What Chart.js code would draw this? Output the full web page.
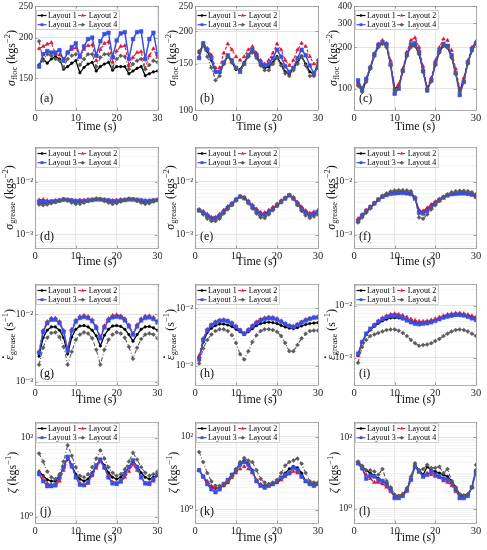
<!DOCTYPE html>
<html><head><meta charset="utf-8">
<script src="https://cdn.jsdelivr.net/npm/chart.js@4"></script>
<style>
html,body{margin:0;padding:0;background:#fff;}
body{width:487px;height:550px;position:relative;overflow:hidden;}
canvas{position:absolute;}
</style>
</head><body>
<script>
// ---------------- DATA ----------------
const time = [1,2,3,4,5,6,7,8,9,10,11,12,13,14,15,16,17,18,19,20,21,22,23,24,25,26,27,28,29,30];
const layoutNames = ['Layout 1','Layout 2','Layout 3','Layout 4'];
const xTicks = [0,10,20,30];
const xLabel = 'Time (s)';

// (a) sigma_floc
const a_L1 = [165,172,167,172,175,172,160,163,167,170,156,162,166,168,158,163,166,168,159,163,163,163,155,158,161,163,153,155,157,158];
const a_L2 = [185,188,191,193,178,177,172,180,184,186,175,184,189,190,170,184,192,194,168,182,188,189,164,174,180,181,161,176,185,174];
const a_L3 = [163,178,182,180,180,183,170,180,187,192,175,188,198,200,176,195,205,207,174,196,206,208,172,198,208,209,172,198,207,178];
const a_L4 = [195,170,178,176,172,170,162,172,176,178,165,172,178,178,163,174,178,178,162,172,176,175,160,166,170,172,160,165,170,168];
// (b)
const b_L1 = [166,178,168,155,140,139,150,161,152,143,143,152,162,169,160,150,145,146,152,160,150,140,137,145,152,161,150,140,137,152];
const b_L2 = [160,180,172,162,145,145,165,179,170,160,155,160,170,175,165,155,150,155,165,179,170,155,148,155,170,180,175,160,150,150];
const b_L3 = [158,180,170,158,140,140,152,162,155,145,140,150,162,170,162,152,148,150,158,170,160,147,140,145,158,170,162,148,138,145];
const b_L4 = [168,176,160,145,130,135,150,160,152,145,142,150,160,166,158,148,142,142,150,158,148,138,135,142,150,160,148,135,135,155];
// (c)
const c_L1 = [110,95,115,140,175,205,215,205,150,100,105,135,175,205,205,180,135,100,115,150,185,205,200,170,130,97,115,155,190,215];
const c_L2 = [108,98,118,145,180,212,225,215,160,100,108,140,185,225,235,200,145,102,120,160,200,230,225,190,140,100,120,160,200,220];
const c_L3 = [115,100,118,142,178,208,218,210,150,92,100,135,178,210,215,185,135,97,115,152,190,212,205,175,130,90,112,155,195,215];
const c_L4 = [105,95,112,140,172,200,212,200,148,97,103,133,172,200,205,178,132,98,113,148,183,205,198,168,128,95,113,152,188,212];
// (d) sigma_grease
const d_L1 = [4.0e-3,3.9e-3,3.9e-3,4.0e-3,4.1e-3,4.3e-3,4.5e-3,4.4e-3,4.2e-3,4.1e-3,4.1e-3,4.2e-3,4.3e-3,4.5e-3,4.7e-3,4.6e-3,4.4e-3,4.2e-3,4.1e-3,4.2e-3,4.3e-3,4.5e-3,4.7e-3,4.6e-3,4.4e-3,4.2e-3,4.0e-3,4.1e-3,4.3e-3,4.5e-3];
const d_L2 = [4.5e-3,4.6e-3,4.4e-3,4.3e-3,4.4e-3,4.5e-3,4.7e-3,4.6e-3,4.5e-3,4.4e-3,4.5e-3,4.5e-3,4.6e-3,4.6e-3,4.7e-3,4.7e-3,4.6e-3,4.5e-3,4.4e-3,4.5e-3,4.6e-3,4.6e-3,4.7e-3,4.7e-3,4.6e-3,4.5e-3,4.4e-3,4.4e-3,4.5e-3,4.6e-3];
const d_L3 = [4.2e-3,4.2e-3,4.1e-3,4.2e-3,4.3e-3,4.4e-3,4.6e-3,4.5e-3,4.4e-3,4.3e-3,4.3e-3,4.3e-3,4.4e-3,4.5e-3,4.6e-3,4.6e-3,4.5e-3,4.4e-3,4.3e-3,4.3e-3,4.4e-3,4.5e-3,4.6e-3,4.6e-3,4.5e-3,4.4e-3,4.3e-3,4.3e-3,4.4e-3,4.5e-3];
const d_L4 = [3.7e-3,3.6e-3,3.7e-3,3.9e-3,4.1e-3,4.4e-3,4.6e-3,4.4e-3,4.0e-3,3.8e-3,3.8e-3,4.0e-3,4.3e-3,4.6e-3,4.8e-3,4.7e-3,4.3e-3,4.0e-3,3.8e-3,3.9e-3,4.2e-3,4.5e-3,4.8e-3,4.7e-3,4.3e-3,4.0e-3,3.8e-3,3.9e-3,4.2e-3,4.5e-3];
// (e)
const e_L1 = [2.9e-3,2.65e-3,2.3e-3,2.05e-3,2.05e-3,2.3e-3,2.75e-3,3.25e-3,3.8e-3,4.6e-3,5.3e-3,5.0e-3,4.2e-3,3.5e-3,2.9e-3,2.5e-3,2.45e-3,2.75e-3,3.1e-3,3.6e-3,4.2e-3,4.9e-3,5.6e-3,4.9e-3,3.9e-3,3.15e-3,2.65e-3,2.35e-3,2.5e-3,2.7e-3];
const e_L2 = [2.9e-3,2.75e-3,2.45e-3,2.15e-3,2.15e-3,2.45e-3,2.9e-3,3.4e-3,3.95e-3,4.7e-3,5.3e-3,5.1e-3,4.35e-3,3.65e-3,3.05e-3,2.65e-3,2.6e-3,2.9e-3,3.3e-3,3.8e-3,4.4e-3,5.0e-3,5.6e-3,5.1e-3,4.1e-3,3.35e-3,2.85e-3,2.55e-3,2.7e-3,2.9e-3];
const e_L3 = [2.85e-3,2.6e-3,2.25e-3,2.0e-3,2.0e-3,2.25e-3,2.7e-3,3.2e-3,3.75e-3,4.5e-3,5.2e-3,4.9e-3,4.1e-3,3.4e-3,2.8e-3,2.4e-3,2.35e-3,2.65e-3,3.05e-3,3.55e-3,4.15e-3,4.8e-3,5.5e-3,4.8e-3,3.8e-3,3.05e-3,2.6e-3,2.3e-3,2.45e-3,2.65e-3];
const e_L4 = [3.0e-3,2.4e-3,2.0e-3,1.8e-3,1.8e-3,2.0e-3,2.5e-3,3.0e-3,3.6e-3,4.4e-3,5.2e-3,4.8e-3,3.9e-3,3.1e-3,2.5e-3,2.1e-3,2.05e-3,2.4e-3,2.9e-3,3.5e-3,4.1e-3,4.8e-3,5.6e-3,4.8e-3,3.6e-3,2.8e-3,2.3e-3,2.05e-3,2.2e-3,2.4e-3];
// (f)
const f_L1 = [1.8e-3,2.2e-3,2.7e-3,3.2e-3,3.8e-3,4.5e-3,5.2e-3,5.7e-3,6.1e-3,6.3e-3,6.4e-3,6.4e-3,6.3e-3,6.1e-3,5.0e-3,2.8e-3,2.7e-3,3.0e-3,3.5e-3,4.0e-3,4.6e-3,5.1e-3,5.6e-3,5.9e-3,6.1e-3,6.2e-3,6.2e-3,6.1e-3,5.9e-3,5.5e-3];
const f_L2 = [2.0e-3,2.4e-3,2.9e-3,3.4e-3,4.0e-3,4.6e-3,5.2e-3,5.6e-3,5.9e-3,6.0e-3,6.1e-3,6.1e-3,6.0e-3,5.9e-3,5.0e-3,2.9e-3,2.8e-3,3.2e-3,3.7e-3,4.2e-3,4.7e-3,5.2e-3,5.6e-3,5.8e-3,5.9e-3,5.9e-3,5.9e-3,5.8e-3,5.6e-3,5.0e-3];
const f_L3 = [1.8e-3,2.3e-3,2.8e-3,3.3e-3,3.9e-3,4.6e-3,5.2e-3,5.6e-3,5.9e-3,6.0e-3,6.1e-3,6.1e-3,6.0e-3,5.8e-3,4.8e-3,2.6e-3,2.5e-3,2.8e-3,3.3e-3,3.9e-3,4.5e-3,5.0e-3,5.5e-3,5.8e-3,5.9e-3,6.0e-3,6.0e-3,5.9e-3,5.7e-3,5.3e-3];
const f_L4 = [1.7e-3,2.1e-3,2.6e-3,3.1e-3,3.8e-3,4.6e-3,5.4e-3,6.0e-3,6.5e-3,6.8e-3,6.9e-3,6.9e-3,6.8e-3,6.6e-3,5.0e-3,2.1e-3,2.0e-3,2.4e-3,3.0e-3,3.6e-3,4.3e-3,5.1e-3,5.8e-3,6.3e-3,6.6e-3,6.7e-3,6.7e-3,6.6e-3,6.3e-3,5.8e-3];
// (g) strain rate
const g_L1 = [2.4e-3,4.5e-3,5.8e-3,6.5e-3,6.5e-3,5.8e-3,4.5e-3,2.6e-3,4.6e-3,6.0e-3,6.7e-3,6.8e-3,6.5e-3,5.8e-3,4.8e-3,3.4e-3,4.9e-3,6.0e-3,6.7e-3,6.8e-3,6.6e-3,6.0e-3,5.0e-3,4.0e-3,5.0e-3,6.0e-3,6.5e-3,6.6e-3,6.3e-3,5.8e-3];
const g_L2 = [2.8e-3,5.8e-3,7.8e-3,8.8e-3,8.8e-3,7.8e-3,5.8e-3,3.0e-3,6.0e-3,8.2e-3,9.3e-3,9.6e-3,9.3e-3,8.3e-3,6.6e-3,4.6e-3,6.8e-3,8.6e-3,9.6e-3,9.8e-3,9.5e-3,8.6e-3,7.0e-3,5.2e-3,7.0e-3,8.6e-3,9.4e-3,9.5e-3,9.0e-3,8.0e-3];
const g_L3 = [2.7e-3,5.5e-3,7.4e-3,8.3e-3,8.3e-3,7.4e-3,5.5e-3,2.9e-3,5.7e-3,7.8e-3,8.8e-3,9.1e-3,8.8e-3,7.9e-3,6.3e-3,4.4e-3,6.4e-3,8.1e-3,9.0e-3,9.2e-3,9.0e-3,8.1e-3,6.6e-3,5.0e-3,6.6e-3,8.1e-3,8.8e-3,9.0e-3,8.5e-3,7.6e-3];
const g_L4 = [1.8e-3,3.2e-3,4.5e-3,5.3e-3,5.4e-3,4.6e-3,3.3e-3,1.8e-3,2.8e-3,4.2e-3,5.0e-3,5.4e-3,5.2e-3,4.4e-3,3.0e-3,1.8e-3,3.0e-3,4.2e-3,5.0e-3,5.4e-3,5.2e-3,4.5e-3,3.3e-3,2.2e-3,3.2e-3,4.3e-3,5.0e-3,5.2e-3,5.0e-3,4.4e-3];
// (h)
const h_L1 = [1.4e-3,2.6e-3,3.8e-3,4.5e-3,5.0e-3,5.3e-3,5.3e-3,5.1e-3,4.8e-3,4.3e-3,3.9e-3,3.5e-3,3.9e-3,4.4e-3,5.0e-3,5.4e-3,5.6e-3,5.7e-3,5.6e-3,5.4e-3,5.0e-3,4.7e-3,4.5e-3,4.4e-3,4.6e-3,4.9e-3,5.2e-3,5.4e-3,5.5e-3,5.6e-3];
const h_L2 = [1.5e-3,3.0e-3,4.3e-3,5.2e-3,5.8e-3,6.2e-3,6.3e-3,6.1e-3,5.6e-3,4.9e-3,4.2e-3,3.7e-3,4.3e-3,5.0e-3,5.8e-3,6.4e-3,6.8e-3,7.0e-3,6.9e-3,6.6e-3,6.0e-3,5.4e-3,5.0e-3,4.9e-3,5.3e-3,5.8e-3,6.3e-3,6.7e-3,7.0e-3,7.1e-3];
const h_L3 = [1.3e-3,2.8e-3,4.1e-3,5.0e-3,5.6e-3,6.0e-3,6.1e-3,5.9e-3,5.4e-3,4.7e-3,4.1e-3,3.6e-3,4.1e-3,4.8e-3,5.5e-3,6.1e-3,6.5e-3,6.7e-3,6.6e-3,6.3e-3,5.8e-3,5.3e-3,4.9e-3,4.7e-3,5.1e-3,5.6e-3,6.1e-3,6.5e-3,6.8e-3,6.9e-3];
const h_L4 = [1.1e-3,2.0e-3,2.8e-3,3.5e-3,4.0e-3,4.3e-3,4.3e-3,4.0e-3,3.4e-3,2.5e-3,1.6e-3,1.3e-3,1.8e-3,2.6e-3,3.4e-3,4.0e-3,4.3e-3,4.3e-3,4.2e-3,3.9e-3,3.3e-3,2.5e-3,1.8e-3,1.8e-3,2.3e-3,3.0e-3,3.6e-3,4.0e-3,4.1e-3,4.1e-3];
// (i)
const i_L1 = [1.1e-3,2.0e-3,2.8e-3,3.4e-3,4.0e-3,4.6e-3,5.1e-3,5.5e-3,5.8e-3,5.9e-3,5.8e-3,5.6e-3,5.3e-3,5.0e-3,4.8e-3,4.6e-3,4.7e-3,4.9e-3,5.1e-3,5.3e-3,5.6e-3,5.9e-3,6.1e-3,6.3e-3,6.5e-3,6.5e-3,6.4e-3,6.2e-3,5.9e-3,5.6e-3];
const i_L2 = [1.1e-3,2.0e-3,2.8e-3,3.5e-3,4.3e-3,5.1e-3,5.8e-3,6.4e-3,6.8e-3,7.0e-3,6.8e-3,6.5e-3,6.0e-3,5.5e-3,5.2e-3,5.0e-3,5.0e-3,5.1e-3,5.3e-3,5.6e-3,6.0e-3,6.4e-3,6.8e-3,7.0e-3,7.2e-3,7.2e-3,7.0e-3,6.7e-3,6.4e-3,6.0e-3];
const i_L3 = [1.2e-3,2.0e-3,2.9e-3,3.6e-3,4.2e-3,4.9e-3,5.5e-3,6.0e-3,6.3e-3,6.4e-3,6.2e-3,5.7e-3,5.2e-3,4.8e-3,4.5e-3,4.4e-3,4.5e-3,4.6e-3,4.8e-3,5.1e-3,5.5e-3,5.9e-3,6.2e-3,6.5e-3,6.7e-3,6.7e-3,6.5e-3,6.1e-3,5.7e-3,5.3e-3];
const i_L4 = [0.8e-3,1.6e-3,2.2e-3,2.6e-3,2.8e-3,3.0e-3,3.2e-3,3.4e-3,3.5e-3,3.5e-3,3.3e-3,3.0e-3,2.6e-3,2.2e-3,1.9e-3,1.7e-3,1.75e-3,1.8e-3,1.9e-3,2.1e-3,2.3e-3,2.6e-3,2.9e-3,3.2e-3,3.4e-3,3.5e-3,3.4e-3,3.2e-3,2.9e-3,2.6e-3];
// (j) zeta
const j_L1 = [14,11,8.7,8,8,11,18,32,20,12,9,8,9,13,20,28,20,13,10,9,10,13,18,25,19,13,10,9,10,11];
const j_L2 = [14,10,7,6.5,6,8,15,28,18,10,7,6.2,7,11,17,25,17,11,7.5,6.5,7.5,10,14,21,15,10,7,6.5,8,11];
const j_L3 = [12,8,6,6,6.5,10,18,33,20,10,6.5,6.3,7.5,12,20,28,18,10,7,7,8,12,18,27,18,10,7,7,9,12];
const j_L4 = [40,25,14,10,9,12,25,65,35,18,11,10,12,18,30,48,30,18,13,11,12,16,25,42,28,18,13,11,12,14];
// (k)
const k_L1 = [12,8,5,4,3.8,4,4.5,5.5,8,12,18,22,18,12,6,4.5,4.5,5,5,5.5,7,10,13,15,14,10,6,5,5,5];
const k_L2 = [12,8,6,4.5,4,4,4.5,5.5,7.5,10,13,15,13,10,6.5,5,4.5,4.5,5,5.5,6.5,8,9.5,11,10,8,6,5,4.5,5];
const k_L3 = [12,8,5,3.6,3.0,3.6,5,6.5,9,12,17,20,17,11,6,4.5,4,4.5,5,6,7.5,9,10,14,12,8,6,5,4.5,5];
const k_L4 = [38,20,10,6,4.5,4.5,5,6,8,13,20,26,22,20,12,7,5.5,5,5.5,6.5,10,16,20,22,25,18,10,6,5.5,5.5];
// (l)
const l_L1 = [20,15,12,10,8.5,7,6,5,3.5,2.3,2.2,2.5,3.5,7,17,12,9,15,12,11,10,9,8,6,4,2.5,2.3,2.5,4,12];
const l_L2 = [18,13,9,7,5.5,5.5,5,4,3,2.2,2.3,2.6,3.5,7,15,11,8,10,9,8,7.5,6,5.5,4.5,3,2.2,2.2,2.5,4,12];
const l_L3 = [19,14,7,8.5,8,6.5,6,5,3.5,2.0,2.0,2.3,3.2,6.5,15,11,8,9,11,9,8,7,6.5,5.5,3.5,2.0,2.0,2.3,4,11];
const l_L4 = [21,16,12,12,11,9,13,6,4,2.5,2.3,2.6,3.8,8,19,12,13,17,14,14,15,10,13,6,4,2.6,2.4,2.6,4,17];

// tick values and tick labels
const ticksA = [150,200,250];           const labelsA = ['150','200','250'];
const ticksB = [100,150,200,250];       const labelsB = ['100','150','200','250'];
const ticksC = [100,200,300,400];       const labelsC = ['100','200','300','400'];
const ticksGrease = [1e-3,1e-2];        const labelsGrease = ['10⁻³','10⁻²'];
const ticksZeta = [1,100];              const labelsZeta = ['10⁰','10²'];

// axis titles (text, style)
const titleFloc   = [['σ','i'],['floc','sub'],[' (kgs',''],['−2','sup'],[')','']];
const titleGrease = [['σ','i'],['grease','sub'],[' (kgs',''],['−2','sup'],[')','']];
const titleRate   = [['ε','idot'],['grease','sub'],[' (s',''],['−1','sup'],[')','']];
const titleZeta   = [['ζ','i'],[' (kgs',''],['−1','sup'],[')','']];

// ---------------- STYLE / LAYOUT ----------------
const FONT = '"Liberation Serif", "DejaVu Serif", serif';
const STYLES = [
  {borderColor:'#000000', backgroundColor:'#000000', pointBackgroundColor:'#000000', pointBorderColor:'#000000', borderWidth:1.3, pointStyle:'circle', pointRadius:1.3, borderDash:[], order:4},
  {borderColor:'#e3122b', backgroundColor:'#e3122b', pointBackgroundColor:'#e3122b', pointBorderColor:'#e3122b', borderWidth:1.1, pointStyle:'triangle', pointRadius:2.1, borderDash:[3,2], order:3},
  {borderColor:'#3a4fe0', backgroundColor:'#3a4fe0', pointBackgroundColor:'#3a4fe0', pointBorderColor:'#3a4fe0', borderWidth:1.5, pointStyle:'rect', pointRadius:2.6, borderDash:[], order:2},
  {borderColor:'#5a5a5a', backgroundColor:'#5a5a5a', pointBackgroundColor:'#5a5a5a', pointBorderColor:'#5a5a5a', borderWidth:1.1, pointStyle:'rectRot', pointRadius:2.0, borderDash:[4,2,1,2], order:1}
];
const COLS = [{x:0,w:162,yw:35,pr:4,tx:12},{x:162,w:162,yw:33,pr:6,tx:11},{x:324,w:163,yw:30,pr:11,tx:10}];
const ROWS = [
  {y:0,  h:135,pt:6, xh:25,tpb:1,leg:4,tdx:0},
  {y:135,h:137,pt:12,xh:24,tpb:3,leg:1,tdx:-2.5},
  {y:272,h:138,pt:12,xh:25,tpb:3,leg:1,tdx:-2.5},
  {y:410,h:140,pt:12,xh:27,tpb:5,leg:1,tdx:1}
];

const panels = [
  {tag:'(a)',s:[a_L1,a_L2,a_L3,a_L4],min:120,max:250,major:ticksA,labels:labelsA,title:titleFloc,minor:false},
  {tag:'(b)',s:[b_L1,b_L2,b_L3,b_L4],min:100,max:250,major:ticksB,labels:labelsB,title:titleFloc,minor:false},
  {tag:'(c)',s:[c_L1,c_L2,c_L3,c_L4],min:70,max:400,major:ticksC,labels:labelsC,title:titleFloc,minor:false},
  {tag:'(d)',s:[d_L1,d_L2,d_L3,d_L4],min:5.6e-4,max:4.5e-2,major:ticksGrease,labels:labelsGrease,title:titleGrease,minor:true},
  {tag:'(e)',s:[e_L1,e_L2,e_L3,e_L4],min:5.6e-4,max:4.5e-2,major:ticksGrease,labels:labelsGrease,title:titleGrease,minor:true},
  {tag:'(f)',s:[f_L1,f_L2,f_L3,f_L4],min:5.6e-4,max:4.5e-2,major:ticksGrease,labels:labelsGrease,title:titleGrease,minor:true},
  {tag:'(g)',s:[g_L1,g_L2,g_L3,g_L4],min:9e-4,max:2.8e-2,major:ticksGrease,labels:labelsGrease,title:titleRate,minor:true},
  {tag:'(h)',s:[h_L1,h_L2,h_L3,h_L4],min:4.7e-4,max:2.6e-2,major:ticksGrease,labels:labelsGrease,title:titleRate,minor:true},
  {tag:'(i)',s:[i_L1,i_L2,i_L3,i_L4],min:3.3e-4,max:2.6e-2,major:ticksGrease,labels:labelsGrease,title:titleRate,minor:true},
  {tag:'(j)',s:[j_L1,j_L2,j_L3,j_L4],min:0.7,max:250,major:ticksZeta,labels:labelsZeta,title:titleZeta,minor:true},
  {tag:'(k)',s:[k_L1,k_L2,k_L3,k_L4],min:0.43,max:250,major:ticksZeta,labels:labelsZeta,title:titleZeta,minor:true},
  {tag:'(l)',s:[l_L1,l_L2,l_L3,l_L4],min:0.4,max:270,major:ticksZeta,labels:labelsZeta,title:titleZeta,minor:true}
];

function logGrid(min,max){
  const out=[];
  for(let e=Math.floor(Math.log10(min));e<=Math.ceil(Math.log10(max));e++){
    for(let m=1;m<10;m++){const v=+(m*Math.pow(10,e)).toPrecision(4); if(v>=min&&v<=max) out.push(v);}
  }
  return out;
}

function drawMark(ctx, style, r, x, y){
  ctx.beginPath();
  if(style==='circle'){ctx.arc(x,y,r,0,Math.PI*2);}
  else if(style==='rect'){const s=r*Math.SQRT1_2; ctx.rect(x-s,y-s,2*s,2*s);}
  else if(style==='rectRot'){ctx.moveTo(x,y-r);ctx.lineTo(x+r,y);ctx.lineTo(x,y+r);ctx.lineTo(x-r,y);ctx.closePath();}
  else if(style==='triangle'){
    let a=0; ctx.moveTo(x+Math.sin(a)*r,y-Math.cos(a)*r);
    a+=2*Math.PI/3; ctx.lineTo(x+Math.sin(a)*r,y-Math.cos(a)*r);
    a+=2*Math.PI/3; ctx.lineTo(x+Math.sin(a)*r,y-Math.cos(a)*r); ctx.closePath();
  }
  ctx.fill();
}

const decor = {
  id:'decor',
  afterDraw(chart, args, o){
    const ctx=chart.ctx, a=chart.chartArea;
    ctx.save();
    // inner tick marks
    ctx.strokeStyle='#777'; ctx.lineWidth=0.7; ctx.setLineDash([]);
    const xs=chart.scales.x, ys=chart.scales.y;
    xTicks.forEach(v=>{const px=Math.round(xs.getPixelForValue(v))+0.5; ctx.beginPath(); ctx.moveTo(px,a.bottom); ctx.lineTo(px,a.bottom-2.5); ctx.moveTo(px,a.top); ctx.lineTo(px,a.top+2.5); ctx.stroke();});
    o.major.forEach(v=>{const py=Math.round(ys.getPixelForValue(v))+0.5; ctx.beginPath(); ctx.moveTo(a.left,py); ctx.lineTo(a.left+2.5,py); ctx.moveTo(a.right,py); ctx.lineTo(a.right-2.5,py); ctx.stroke();});
    // frame
    ctx.strokeStyle='#9a9a9a'; ctx.lineWidth=0.8;
    ctx.strokeRect(Math.round(a.left)+0.5, Math.round(a.top)+0.5, Math.round(a.right-a.left), Math.round(a.bottom-a.top));
    // panel tag
    ctx.fillStyle='#111'; ctx.font='12px '+FONT; ctx.textAlign='left'; ctx.textBaseline='middle';
    ctx.fillText(o.tag, a.left+5, a.bottom-11);
    // legend
    const ds=chart.data.datasets;
    ctx.font='8px '+FONT;
    const tw=ds.map(d=>ctx.measureText(d.label).width);
    const lineLen=9, gap=1.5;
    const colW=[lineLen+gap+Math.max(tw[0],tw[2])+1.5, lineLen+gap+Math.max(tw[1],tw[3])+1];
    const bx=Math.round(a.left)+1.5, by=Math.round(a.top)+o.leg+0.5, bw=colW[0]+colW[1]+2, bh=19;
    ctx.fillStyle='#fff'; ctx.fillRect(bx,by,bw,bh);
    ctx.strokeStyle='#bdbdbd'; ctx.lineWidth=0.7; ctx.strokeRect(bx,by,bw,bh);
    ds.forEach((d,i)=>{
      const col=i%2,row=i>>1;
      const x0=bx+1+(col?colW[0]:0), y=by+5+row*9.2;
      ctx.strokeStyle=d.borderColor; ctx.lineWidth=Math.min(d.borderWidth,1.2); ctx.setLineDash(d.borderDash||[]);
      ctx.beginPath(); ctx.moveTo(x0,y); ctx.lineTo(x0+lineLen,y); ctx.stroke(); ctx.setLineDash([]);
      ctx.fillStyle=d.borderColor; drawMark(ctx,d.pointStyle,Math.min(d.pointRadius,2),x0+lineLen/2,y);
      ctx.fillStyle='#000'; ctx.textBaseline='middle'; ctx.textAlign='left';
      ctx.fillText(d.label,x0+lineLen+gap,y+0.5);
    });
    // rotated y title
    const segs=o.title, base=12, small=8.5;
    const fontOf=s=> (s==='i'||s==='idot') ? 'italic '+base+'px '+FONT : (s==='sub'||s==='sup') ? small+'px '+FONT : base+'px '+FONT;
    let total=0; const ws=segs.map(sg=>{ctx.font=fontOf(sg[1]); const w=ctx.measureText(sg[0]).width; total+=w; return w;});
    ctx.translate(o.tx,(a.top+a.bottom)/2); ctx.rotate(-Math.PI/2);
    ctx.fillStyle='#111'; ctx.textAlign='left'; ctx.textBaseline='middle';
    let x=-total/2;
    segs.forEach((sg,k)=>{
      ctx.font=fontOf(sg[1]);
      const dy= sg[1]==='sub'?3.0 : sg[1]==='sup'?-4.2 : 0;
      ctx.fillText(sg[0],x,dy);
      if(sg[1]==='idot'){ctx.beginPath(); ctx.arc(x+ws[k]*0.62,-6.3,0.9,0,Math.PI*2); ctx.fill();}
      x+=ws[k];
    });
    ctx.restore();
  }
};

panels.forEach((p,idx)=>{
  const C=COLS[idx%3], R=ROWS[Math.floor(idx/3)];
  const cv=document.createElement('canvas');
  cv.width=C.w; cv.height=R.h;
  cv.style.left=C.x+'px'; cv.style.top=R.y+'px';
  cv.style.width=C.w+'px'; cv.style.height=R.h+'px';
  document.body.appendChild(cv);
  const isMajor=v=>p.major.findIndex(t=>Math.abs(t-v)<=t*1e-6);
  const yTickVals = p.minor ? logGrid(p.min,p.max) : p.major.slice();
  new Chart(cv,{
    type:'line',
    data:{datasets:p.s.map((ser,i)=>Object.assign({label:layoutNames[i], data:ser.map((v,k)=>({x:time[k],y:v})), tension:0, fill:false, pointBorderWidth:0.5}, STYLES[i]))},
    options:{
      responsive:false, animation:false, events:[],
      layout:{padding:{left:0,top:R.pt,right:C.pr,bottom:0}},
      plugins:{legend:{display:false}, tooltip:{enabled:false},
        decor:{tag:p.tag, title:p.title, tx:C.tx+R.tdx, leg:R.leg, major:p.major}},
      scales:{
        x:{type:'linear', min:0, max:30,
          afterBuildTicks:s=>{s.ticks=xTicks.map(v=>({value:v}));},
          afterFit:s=>{s.height=R.xh; s.paddingLeft=0; s.paddingRight=0;},
          grid:{color:'#e2e2e2', lineWidth:0.8, drawTicks:false},
          border:{display:false},
          ticks:{padding:2, font:{family:FONT,size:10.5}, color:'#222', maxRotation:0, autoSkip:false, callback:v=>String(v)},
          title:{display:true, text:xLabel, font:{family:FONT,size:12}, color:'#111', padding:{top:0,bottom:R.tpb}}
        },
        y:{type:'logarithmic', min:p.min, max:p.max,
          afterBuildTicks:s=>{s.ticks=yTickVals.map(v=>({value:v}));},
          afterFit:s=>{s.width=C.yw; s.paddingTop=0; s.paddingBottom=0;},
          grid:{color:c=>(c.tick && isMajor(c.tick.value)>=0)?'#dcdcdc':'#f1f1f1', lineWidth:0.8, drawTicks:false},
          border:{display:false},
          ticks:{padding:2, font:{family:FONT,size:9.5}, color:'#222', autoSkip:false,
            callback:v=>{const i=isMajor(v); return i>=0?p.labels[i]:'';}}
        }
      }
    },
    plugins:[decor]
  });
});
</script>
</body></html>
